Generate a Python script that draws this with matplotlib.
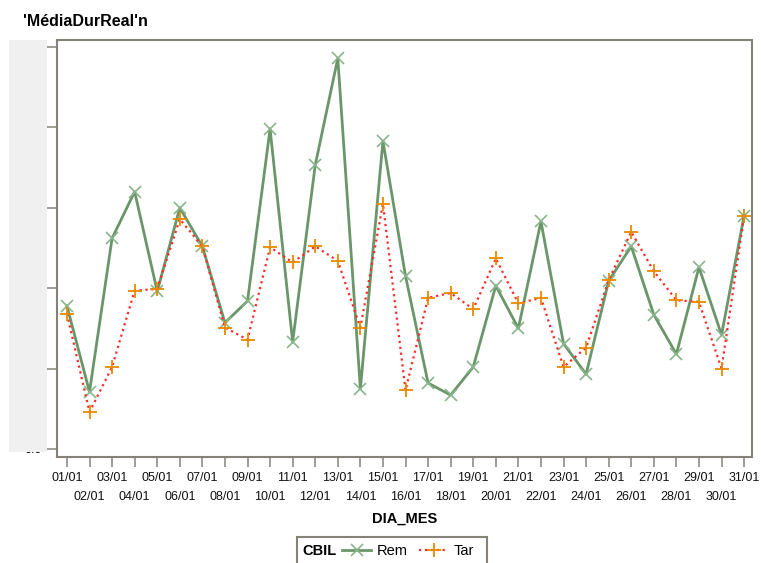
import matplotlib
matplotlib.use("Agg")
import matplotlib.pyplot as plt
from matplotlib.patches import Rectangle
from matplotlib.lines import Line2D

plt.rcParams['font.family'] = ['Liberation Sans', 'DejaVu Sans']

# ---------- data ----------
days = list(range(1, 32))
day_labels = [f"{d:02d}/01" for d in days]

rem = [1.78, 0.71, 2.62, 3.20, 1.96, 3.00, 2.52, 1.57, 1.84, 3.98,
       1.33, 3.53, 4.86, 0.75, 3.83, 2.15, 0.82, 0.67, 1.02, 2.03,
       1.50, 2.83, 1.31, 0.93, 2.09, 2.52, 1.67, 1.18, 2.26, 1.42, 2.90]
tar = [1.68, 0.46, 1.02, 1.97, 1.99, 2.86, 2.52, 1.51, 1.36, 2.51,
       2.32, 2.52, 2.34, 1.51, 3.05, 0.73, 1.88, 1.94, 1.74, 2.37,
       1.81, 1.88, 1.02, 1.26, 2.10, 2.70, 2.21, 1.85, 1.83, 1.00, 2.90]
y_ticks = [0, 1, 2, 3, 4, 5]

# ---------- figure ----------
fig = plt.figure(figsize=(7.61, 5.63), dpi=100)
ax = fig.add_axes([57 / 761, 1 - 457 / 563, (752 - 57) / 761, (457 - 40) / 563])

spine_col = '#85827a'
rem_style = dict(color='#6a966a', lw=2.0, marker='x', ms=9, mec='#8ab48a', mew=1.2)
tar_style = dict(color='#ff2a2a', lw=1.6, ls=':', marker='+', ms=10, mec='#e88a00', mew=1.3)

ax.plot(days, rem, label='Rem', zorder=2, **rem_style)
ax.plot(days, tar, label='Tar', zorder=3, **tar_style)

ax.set_xlim(0.56, 31.35)
ax.set_ylim(-0.1, 5.087)
ax.set_yticks(y_ticks)
ax.set_yticklabels([f"{v:.1f}" for v in y_ticks], fontsize=9)

# odd days on the first row, even days staggered underneath
odd = [d for d in days if d % 2]
even = [d for d in days if not d % 2]
ax.set_xticks(odd)
ax.set_xticklabels([day_labels[d - 1] for d in odd], fontsize=9, color='#111111')
ax.set_xticks(even, minor=True)
ax.set_xticklabels([day_labels[d - 1] for d in even], minor=True, fontsize=9,
                   color='#111111')
ax.tick_params(axis='both', which='both', direction='out', length=7.5, width=1.1,
               color=spine_col)
ax.tick_params(axis='x', which='major', pad=3)
ax.tick_params(axis='x', which='minor', pad=17)
for s in ax.spines.values():
    s.set_color(spine_col)
    s.set_linewidth(1.5)

ax.set_xlabel("DIA_MES", fontsize=10.5, fontweight='bold', labelpad=6)

fig.text(23 / 761, 1 - 21 / 563, "'MédiaDurReal'n", fontsize=11.5,
         fontweight='bold', va='center', ha='left')

# grey panel over the value axis
fig.add_artist(Rectangle((9 / 761, 1 - 452 / 563), 38 / 761, 412 / 563,
                         transform=fig.transFigure, facecolor='#f0f0f0',
                         edgecolor='none', zorder=10))

# legend box along the bottom edge
fig.add_artist(Rectangle((297 / 761, -0.01), 190 / 761, 1 - 537 / 563 + 0.01,
                         transform=fig.transFigure, facecolor='white',
                         edgecolor=spine_col, lw=1.5, zorder=10))
fig.text(302 / 761, 1 - 551 / 563, "CBIL", fontsize=10.5, fontweight='bold',
         va='center', ha='left', zorder=11)
handles = [Line2D([], [], **rem_style), Line2D([], [], **tar_style)]
leg = fig.legend(handles, ['Rem', 'Tar'], loc='center left',
                 bbox_to_anchor=(342 / 761, 1 - 551 / 563), ncol=2, frameon=False,
                 fontsize=10.5, handlelength=2.0, handletextpad=0.35,
                 columnspacing=0.8, borderpad=0, borderaxespad=0)
leg.set_zorder(12)

fig.savefig("out.png", dpi=100)
